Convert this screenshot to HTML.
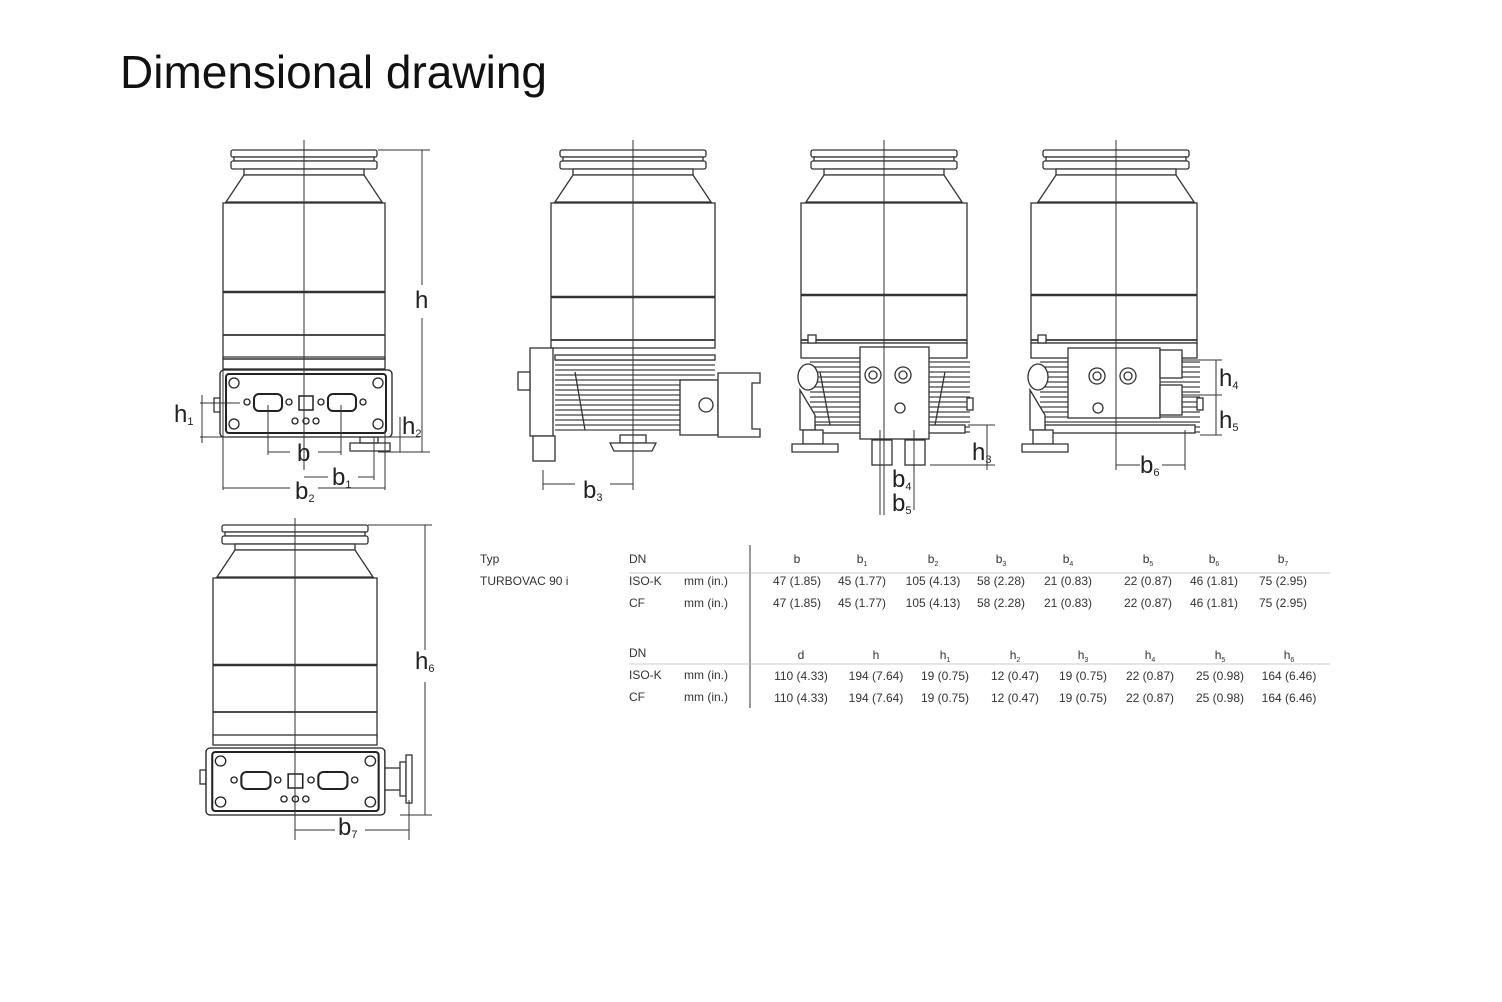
<!DOCTYPE html>
<html><head><meta charset="utf-8"><style>
html,body{margin:0;padding:0;background:#fff}
svg{display:block}
text{font-family:"Liberation Sans",sans-serif;fill:#222}
.t{font-size:12px;fill:#333}
.d{font-size:24px;fill:#222}
.s{font-size:11px}
</style></head><body>
<svg width="1502" height="1002" viewBox="0 0 1502 1002" xmlns="http://www.w3.org/2000/svg">
<defs>
<g id="top" fill="#fff" stroke="#333" stroke-width="1.3">
<rect x="-73" y="0" width="146" height="7" rx="2"/>
<rect x="-70" y="7" width="140" height="4"/>
<rect x="-73" y="11" width="146" height="8" rx="2"/>
<rect x="-60" y="19" width="120" height="6"/>
<polygon points="-60,25 60,25 78,52 -78,52"/>
</g>
<g id="fins" stroke="#444" stroke-width="1.3">
<line x1="0" y1="0" x2="160" y2="0"/><line x1="0" y1="5" x2="160" y2="5"/><line x1="0" y1="10" x2="160" y2="10"/>
<line x1="0" y1="15" x2="160" y2="15"/><line x1="0" y1="20" x2="160" y2="20"/><line x1="0" y1="25" x2="160" y2="25"/>
<line x1="0" y1="30" x2="160" y2="30"/><line x1="0" y1="35" x2="160" y2="35"/><line x1="0" y1="40" x2="160" y2="40"/>
<line x1="0" y1="45" x2="160" y2="45"/><line x1="0" y1="50" x2="160" y2="50"/><line x1="0" y1="55" x2="160" y2="55"/>
<line x1="0" y1="60" x2="160" y2="60"/><line x1="0" y1="65" x2="160" y2="65"/><line x1="0" y1="70" x2="160" y2="70"/>
</g>
<g id="panel" fill="#fff" stroke="#222" stroke-width="1.3">
<rect x="0" y="0" width="172" height="67" rx="4"/>
<rect x="6" y="4" width="160" height="59" rx="3" stroke-width="2"/>
<circle cx="14" cy="13" r="5"/><circle cx="158" cy="13" r="5"/><circle cx="14" cy="54" r="5"/><circle cx="158" cy="54" r="5"/>
<rect x="34" y="24" width="28" height="17" rx="5" stroke-width="2"/>
<circle cx="27" cy="32" r="3"/><circle cx="69" cy="32" r="3"/>
<rect x="79" y="26" width="14" height="14" stroke-width="1.5"/>
<rect x="108" y="24" width="28" height="17" rx="5" stroke-width="2"/>
<circle cx="101" cy="32" r="3"/><circle cx="143" cy="32" r="3"/>
<circle cx="75" cy="51" r="3"/><circle cx="86" cy="51" r="3"/><circle cx="96" cy="51" r="3"/>
</g>
</defs>

<text x="120" y="88" style="font-size:46px;fill:#111">Dimensional drawing</text>

<!-- Pump 1 -->
<use href="#top" x="304" y="150"/>
<g fill="none" stroke="#333" stroke-width="1.3">
<rect x="223" y="203" width="162" height="156"/>
<line x1="223" y1="292" x2="385" y2="292" stroke-width="2.5"/>
<line x1="223" y1="335" x2="385" y2="335" stroke-width="1.8"/>
<line x1="223" y1="357" x2="385" y2="357"/>
<rect x="223" y="359" width="162" height="10"/>
<path d="M385,370 q8,4 6,20 v30"/>
<rect x="360" y="437" width="18" height="6"/>
<path d="M350,443 h40 v8 h-40 z"/>
<rect x="214" y="398" width="8" height="14"/>
</g>
<use href="#panel" x="220" y="370"/>
<g stroke="#333" stroke-width="1" fill="none">
<line x1="304" y1="140" x2="304" y2="470"/>
<line x1="378" y1="150" x2="430" y2="150"/>
<line x1="422" y1="150" x2="422" y2="285"/><line x1="422" y1="318" x2="422" y2="452"/>
<line x1="378" y1="452" x2="430" y2="452"/>
<line x1="200" y1="403" x2="240" y2="403"/><line x1="200" y1="437" x2="230" y2="437"/>
<line x1="202" y1="395" x2="202" y2="443"/>
<line x1="385" y1="437" x2="420" y2="437"/><line x1="400" y1="417" x2="400" y2="452"/>
<line x1="268" y1="405" x2="268" y2="455"/><line x1="341" y1="405" x2="341" y2="455"/>
<line x1="268" y1="452" x2="290" y2="452"/><line x1="318" y1="452" x2="341" y2="452"/>
<line x1="374" y1="437" x2="374" y2="480"/><line x1="304" y1="477" x2="328" y2="477"/><line x1="358" y1="477" x2="374" y2="477"/>
<line x1="223" y1="370" x2="223" y2="490"/><line x1="385" y1="430" x2="385" y2="490"/>
<line x1="223" y1="488" x2="290" y2="488"/><line x1="318" y1="488" x2="385" y2="488"/>
</g>
<text class="d" x="415" y="308">h</text>
<text class="d" x="174" y="422">h<tspan class="s" dy="3">1</tspan></text>
<text class="d" x="402" y="434">h<tspan class="s" dy="3">2</tspan></text>
<text class="d" x="297" y="461">b</text>
<text class="d" x="332" y="485">b<tspan class="s" dy="3">1</tspan></text>
<text class="d" x="295" y="499">b<tspan class="s" dy="3">2</tspan></text>

<!-- Pump 2 -->
<use href="#top" x="633" y="150"/>
<g fill="#fff" stroke="#333" stroke-width="1.3">
<rect x="551" y="203" width="164" height="145"/>
<line x1="551" y1="297" x2="715" y2="297" stroke-width="2.5"/>
<line x1="551" y1="340" x2="715" y2="340" stroke-width="1.8"/>
<use href="#fins" x="555" y="360"/>
<rect x="555" y="355" width="160" height="5"/>
<rect x="530" y="348" width="23" height="88"/>
<rect x="518" y="372" width="12" height="18"/>
<rect x="533" y="436" width="22" height="25"/>
<rect x="680" y="380" width="38" height="55"/>
<path d="M718,373 h42 v10 h-8 v46 h8 v8 h-42 z"/>
<circle cx="706" cy="405" r="7"/>
<rect x="620" y="435" width="26" height="8"/>
<path d="M610,443 h46 l-4,8 h-38 z"/>
<line x1="575" y1="372" x2="585" y2="430"/>
</g>
<g stroke="#333" stroke-width="1" fill="none">
<line x1="633" y1="140" x2="633" y2="490"/>
<line x1="543" y1="470" x2="543" y2="490"/><line x1="543" y1="484" x2="575" y2="484"/><line x1="610" y1="484" x2="633" y2="484"/>
</g>
<text class="d" x="583" y="498">b<tspan class="s" dy="3">3</tspan></text>

<!-- Pump 3 -->
<use href="#top" x="884" y="150"/>
<g fill="#fff" stroke="#333" stroke-width="1.3">
<rect x="801" y="203" width="166" height="140"/>
<line x1="801" y1="295" x2="967" y2="295" stroke-width="2.5"/>
<line x1="801" y1="340" x2="967" y2="340" stroke-width="1.8"/>
<rect x="801" y="343" width="166" height="15"/>
<use href="#fins" x="810" y="362"/>
<rect x="815" y="425" width="150" height="8"/>
<rect x="808" y="335" width="8" height="8"/>
<ellipse cx="808" cy="377" rx="10" ry="13"/>
<path d="M800,390 l15,25 v15 h-15 z"/>
<rect x="803" y="430" width="20" height="14"/>
<path d="M792,444 h46 v8 h-46 z"/>
<line x1="820" y1="372" x2="830" y2="425"/><line x1="945" y1="372" x2="935" y2="425"/>
<rect x="860" y="347" width="69" height="92"/>
<circle cx="873" cy="375" r="8"/><circle cx="873" cy="375" r="4"/>
<circle cx="903" cy="375" r="8"/><circle cx="903" cy="375" r="4"/>
<circle cx="900" cy="408" r="5"/>
<rect x="872" y="440" width="20" height="25"/><rect x="905" y="440" width="20" height="25"/>
<rect x="967" y="398" width="6" height="12"/>
</g>
<g stroke="#333" stroke-width="1" fill="none">
<line x1="884" y1="140" x2="884" y2="515"/>
<line x1="930" y1="465" x2="995" y2="465"/><line x1="968" y1="425" x2="995" y2="425"/><line x1="987" y1="425" x2="987" y2="470"/>
<line x1="914" y1="430" x2="914" y2="510"/><line x1="880" y1="430" x2="880" y2="515"/>
</g>
<text class="d" x="972" y="460">h<tspan class="s" dy="3">3</tspan></text>
<text class="d" x="892" y="487">b<tspan class="s" dy="3">4</tspan></text>
<text class="d" x="892" y="511">b<tspan class="s" dy="3">5</tspan></text>

<!-- Pump 4 -->
<use href="#top" x="1116" y="150"/>
<g fill="#fff" stroke="#333" stroke-width="1.3">
<rect x="1031" y="203" width="166" height="140"/>
<line x1="1031" y1="295" x2="1197" y2="295" stroke-width="2.5"/>
<line x1="1031" y1="340" x2="1197" y2="340" stroke-width="1.8"/>
<rect x="1031" y="343" width="166" height="15"/>
<use href="#fins" x="1040" y="362"/>
<rect x="1045" y="425" width="150" height="8"/>
<rect x="1038" y="335" width="8" height="8"/>
<ellipse cx="1038" cy="377" rx="10" ry="13"/>
<path d="M1030,390 l15,25 v15 h-15 z"/>
<rect x="1033" y="430" width="20" height="14"/>
<path d="M1022,444 h46 v8 h-46 z"/>
<rect x="1068" y="348" width="92" height="70"/>
<circle cx="1097" cy="376" r="8"/><circle cx="1097" cy="376" r="4"/>
<circle cx="1128" cy="376" r="8"/><circle cx="1128" cy="376" r="4"/>
<circle cx="1098" cy="408" r="5"/>
<rect x="1160" y="350" width="22" height="28"/><rect x="1160" y="385" width="22" height="30"/>
<rect x="1197" y="398" width="6" height="12"/>
</g>
<g stroke="#333" stroke-width="1" fill="none">
<line x1="1116" y1="140" x2="1116" y2="470"/>
<line x1="1182" y1="360" x2="1222" y2="360"/><line x1="1182" y1="395" x2="1222" y2="395"/><line x1="1200" y1="435" x2="1222" y2="435"/>
<line x1="1216" y1="360" x2="1216" y2="435"/>
<line x1="1185" y1="430" x2="1185" y2="470"/>
<line x1="1116" y1="465" x2="1140" y2="465"/><line x1="1162" y1="465" x2="1185" y2="465"/>
</g>
<text class="d" x="1219" y="386">h<tspan class="s" dy="3">4</tspan></text>
<text class="d" x="1219" y="428">h<tspan class="s" dy="3">5</tspan></text>
<text class="d" x="1140" y="473">b<tspan class="s" dy="3">6</tspan></text>

<!-- Pump 5 -->
<use href="#top" x="295" y="525"/>
<g fill="#fff" stroke="#333" stroke-width="1.3">
<rect x="213" y="578" width="164" height="160"/>
<line x1="213" y1="665" x2="377" y2="665" stroke-width="2.5"/>
<line x1="213" y1="712" x2="377" y2="712" stroke-width="1.8"/>
<rect x="213" y="735" width="164" height="10"/>
<rect x="384" y="768" width="18" height="22"/>
<rect x="400" y="762" width="6" height="34"/>
<rect x="406" y="755" width="6" height="48"/>
<rect x="200" y="770" width="6" height="14"/>
</g>
<use href="#panel" x="206" y="748" transform="translate(206,748) scale(1.04,1) translate(-206,-748)"/>
<g stroke="#333" stroke-width="1" fill="none">
<line x1="295" y1="518" x2="295" y2="840"/>
<line x1="368" y1="525" x2="432" y2="525"/>
<line x1="425" y1="525" x2="425" y2="650"/><line x1="425" y1="682" x2="425" y2="815"/>
<line x1="400" y1="815" x2="432" y2="815"/>
<line x1="409" y1="800" x2="409" y2="840"/>
<line x1="295" y1="830" x2="335" y2="830"/><line x1="365" y1="830" x2="409" y2="830"/>
</g>
<text class="d" x="415" y="669">h<tspan class="s" dy="3">6</tspan></text>
<text class="d" x="338" y="835">b<tspan class="s" dy="3">7</tspan></text>

<!-- Table -->
<g class="t">
<line x1="750" y1="545" x2="750" y2="708" stroke="#333" stroke-width="1"/>
<line x1="629" y1="573" x2="1330" y2="573" stroke="#bbb" stroke-width="0.8"/>
<line x1="629" y1="664" x2="1330" y2="664" stroke="#bbb" stroke-width="0.8"/>
<text class="t" x="480" y="563">Typ</text>
<text class="t" x="629" y="563">DN</text>
<text class="t" x="480" y="585">TURBOVAC  90 i</text>
<text class="t" x="629" y="585">ISO-K</text><text class="t" x="684" y="585">mm (in.)</text>
<text class="t" x="629" y="607">CF</text><text class="t" x="684" y="607">mm (in.)</text>
<text class="t" x="629" y="657">DN</text>
<text class="t" x="629" y="679">ISO-K</text><text class="t" x="684" y="679">mm (in.)</text>
<text class="t" x="629" y="701">CF</text><text class="t" x="684" y="701">mm (in.)</text>
<g text-anchor="middle">
<text class="t" x="797" y="563">b</text>
<text class="t" x="862" y="563">b<tspan font-size="7" dy="3">1</tspan></text>
<text class="t" x="933" y="563">b<tspan font-size="7" dy="3">2</tspan></text>
<text class="t" x="1001" y="563">b<tspan font-size="7" dy="3">3</tspan></text>
<text class="t" x="1068" y="563">b<tspan font-size="7" dy="3">4</tspan></text>
<text class="t" x="1148" y="563">b<tspan font-size="7" dy="3">5</tspan></text>
<text class="t" x="1214" y="563">b<tspan font-size="7" dy="3">6</tspan></text>
<text class="t" x="1283" y="563">b<tspan font-size="7" dy="3">7</tspan></text>
<text class="t" x="797" y="585">47 (1.85)</text><text class="t" x="862" y="585">45 (1.77)</text><text class="t" x="933" y="585">105 (4.13)</text><text class="t" x="1001" y="585">58 (2.28)</text><text class="t" x="1068" y="585">21 (0.83)</text><text class="t" x="1148" y="585">22 (0.87)</text><text class="t" x="1214" y="585">46 (1.81)</text><text class="t" x="1283" y="585">75 (2.95)</text>
<text class="t" x="797" y="607">47 (1.85)</text><text class="t" x="862" y="607">45 (1.77)</text><text class="t" x="933" y="607">105 (4.13)</text><text class="t" x="1001" y="607">58 (2.28)</text><text class="t" x="1068" y="607">21 (0.83)</text><text class="t" x="1148" y="607">22 (0.87)</text><text class="t" x="1214" y="607">46 (1.81)</text><text class="t" x="1283" y="607">75 (2.95)</text>
<text class="t" x="801" y="659">d</text>
<text class="t" x="876" y="659">h</text>
<text class="t" x="945" y="659">h<tspan font-size="7" dy="3">1</tspan></text>
<text class="t" x="1015" y="659">h<tspan font-size="7" dy="3">2</tspan></text>
<text class="t" x="1083" y="659">h<tspan font-size="7" dy="3">3</tspan></text>
<text class="t" x="1150" y="659">h<tspan font-size="7" dy="3">4</tspan></text>
<text class="t" x="1220" y="659">h<tspan font-size="7" dy="3">5</tspan></text>
<text class="t" x="1289" y="659">h<tspan font-size="7" dy="3">6</tspan></text>
<text class="t" x="801" y="680">110 (4.33)</text><text class="t" x="876" y="680">194 (7.64)</text><text class="t" x="945" y="680">19 (0.75)</text><text class="t" x="1015" y="680">12 (0.47)</text><text class="t" x="1083" y="680">19 (0.75)</text><text class="t" x="1150" y="680">22 (0.87)</text><text class="t" x="1220" y="680">25 (0.98)</text><text class="t" x="1289" y="680">164 (6.46)</text>
<text class="t" x="801" y="702">110 (4.33)</text><text class="t" x="876" y="702">194 (7.64)</text><text class="t" x="945" y="702">19 (0.75)</text><text class="t" x="1015" y="702">12 (0.47)</text><text class="t" x="1083" y="702">19 (0.75)</text><text class="t" x="1150" y="702">22 (0.87)</text><text class="t" x="1220" y="702">25 (0.98)</text><text class="t" x="1289" y="702">164 (6.46)</text>
</g>
</g>
</svg>
</body></html>
